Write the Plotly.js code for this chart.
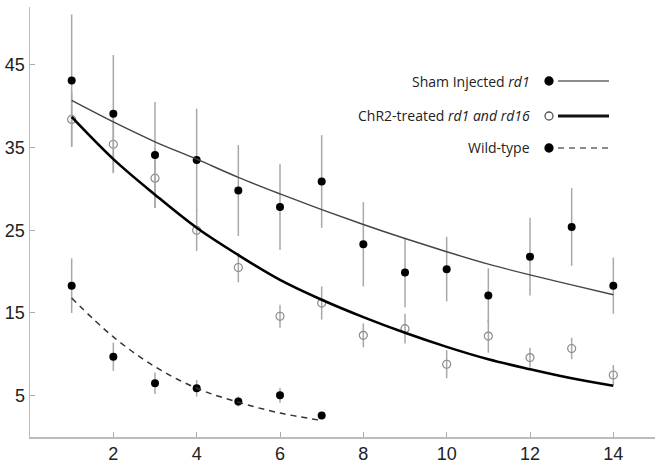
<!DOCTYPE html>
<html>
<head>
<meta charset="utf-8">
<script src="https://cdn.plot.ly/plotly-3.0.1.min.js"></script>
<style>html,body{margin:0;padding:0;background:#fff;}#chart{width:656px;height:467px;}</style>
</head>
<body>
<div id="chart"></div>
<script>
// Days / session index
const xShamChr2 = [1,2,3,4,5,6,7,8,9,10,11,12,13,14];
const xWild = [1,2,3,4,5,6,7];

// Sham Injected rd1
const shamMean = [43.1,39.1,34.1,33.5,29.8,27.8,30.9,23.3,19.9,20.3,17.1,21.8,25.4,18.3];
const shamErr  = [8.0,7.1,6.4,6.2,5.5,5.2,5.6,5.1,4.2,3.9,3.3,4.7,4.7,3.4];
const shamFit  = [40.7,38.1,35.7,33.6,31.4,29.4,27.5,25.7,24.0,22.4,20.9,19.6,18.4,17.2];

// ChR2-treated rd1 and rd16
const chr2Mean = [38.4,35.4,31.3,25.0,20.5,14.6,16.2,12.3,13.1,8.8,12.2,9.6,10.7,7.5];
const chr2Err  = [3.3,3.5,3.6,2.5,1.8,1.4,2.0,1.45,1.8,1.7,2.0,1.2,1.3,1.2];
const chr2Fit  = [38.7,33.6,29.3,25.3,22.0,19.0,16.6,14.5,12.6,10.9,9.4,8.2,7.1,6.2];

// Wild-type
const wildMean = [18.3,9.7,6.5,5.9,4.3,5.05,2.6];
const wildErr  = [3.3,1.7,1.3,1.0,0.6,0.9,0.0];
const wildFit  = [16.8,12.1,8.5,5.9,4.2,2.9,2.0];

const xTicks = [2,4,6,8,10,12,14];
const yTicks = [5,15,25,35,45];

const legendLabels = ['Sham Injected <i>rd1</i>', 'ChR2-treated <i>rd1 and rd16</i>', 'Wild-type'];

const errStyle = (arr) => ({type:'data', array:arr, visible:true, color:'#a8a8a8', thickness:1.5, width:0});

const traces = [
  {x:xShamChr2, y:chr2Mean, error_y:errStyle(chr2Err), mode:'markers', type:'scatter',
   marker:{symbol:'circle-open', size:8, color:'#8a8a8a', line:{width:1.2, color:'#8a8a8a'}}},
  {x:xShamChr2, y:shamMean, error_y:errStyle(shamErr), mode:'markers', type:'scatter',
   marker:{symbol:'circle', size:8, color:'#000'}},
  {x:xWild, y:wildMean, error_y:errStyle(wildErr), mode:'markers', type:'scatter',
   marker:{symbol:'circle', size:8, color:'#000'}},
  {x:xShamChr2, y:shamFit, mode:'lines', type:'scatter', line:{color:'#444', width:1.4, shape:'spline'}},
  {x:xShamChr2, y:chr2Fit, mode:'lines', type:'scatter', line:{color:'#000', width:2.6, shape:'spline'}},
  {x:xWild, y:wildFit, mode:'lines', type:'scatter', line:{color:'#333', width:1.5, dash:'6px,5px', shape:'spline'}}
];

// Legend drawn in paper coordinates (text right of which sit symbol + line sample)
const W = 625, H = 430, L = 30, T = 7;
const px = (p) => (p - L) / W;
const py = (p) => 1 - (p - T) / H;
const legY = [81, 116, 148];
const annotations = legendLabels.map((t, i) => ({
  xref:'paper', yref:'paper', x:px(532), y:py(legY[i]), xanchor:'right', yanchor:'middle',
  text:t, showarrow:false, font:{family:'Open Sans, Liberation Sans, sans-serif', size:14, color:'#222'}
}));
const shapes = [];
const r = 4;
const symFill = ['#000', '#fff', '#000'];
const symLine = ['#000', '#555', '#000'];
const lineStyles = [{color:'#666', width:1.4}, {color:'#111', width:2.8}, {color:'#666', width:1.4, dash:'6px,5px'}];
legY.forEach((yy, i) => {
  shapes.push({type:'circle', xref:'paper', yref:'paper', x0:px(549-r), x1:px(549+r), y0:py(yy+r), y1:py(yy-r),
    fillcolor:symFill[i], line:{color:symLine[i], width:1.3}});
  shapes.push({type:'line', xref:'paper', yref:'paper', x0:px(558), x1:px(609), y0:py(yy), y1:py(yy), line:lineStyles[i]});
});

const layout = {
  width:656, height:467,
  margin:{l:30, r:1, t:7, b:30},
  paper_bgcolor:'#fff', plot_bgcolor:'#fff',
  showlegend:false,
  font:{family:'Liberation Sans, Arial, sans-serif', size:18, color:'#222'},
  xaxis:{range:[0,15], tickvals:xTicks, ticktext:xTicks.map(String), ticks:'inside', ticklen:5, tickwidth:1,
    tickcolor:'#aaa', showline:true, linecolor:'#bbb', linewidth:1.5, showgrid:false, zeroline:false,
    tickfont:{size:18, color:'#222'}},
  yaxis:{range:[0,52], tickvals:yTicks, ticktext:yTicks.map(String), ticks:'inside', ticklen:5, tickwidth:1,
    tickcolor:'#aaa', showline:true, linecolor:'#bbb', linewidth:1.5, showgrid:false, zeroline:false,
    tickfont:{size:18, color:'#222'}},
  annotations:annotations,
  shapes:shapes
};

Plotly.newPlot('chart', traces, layout, {displayModeBar:false, staticPlot:true});
</script>
</body>
</html>
